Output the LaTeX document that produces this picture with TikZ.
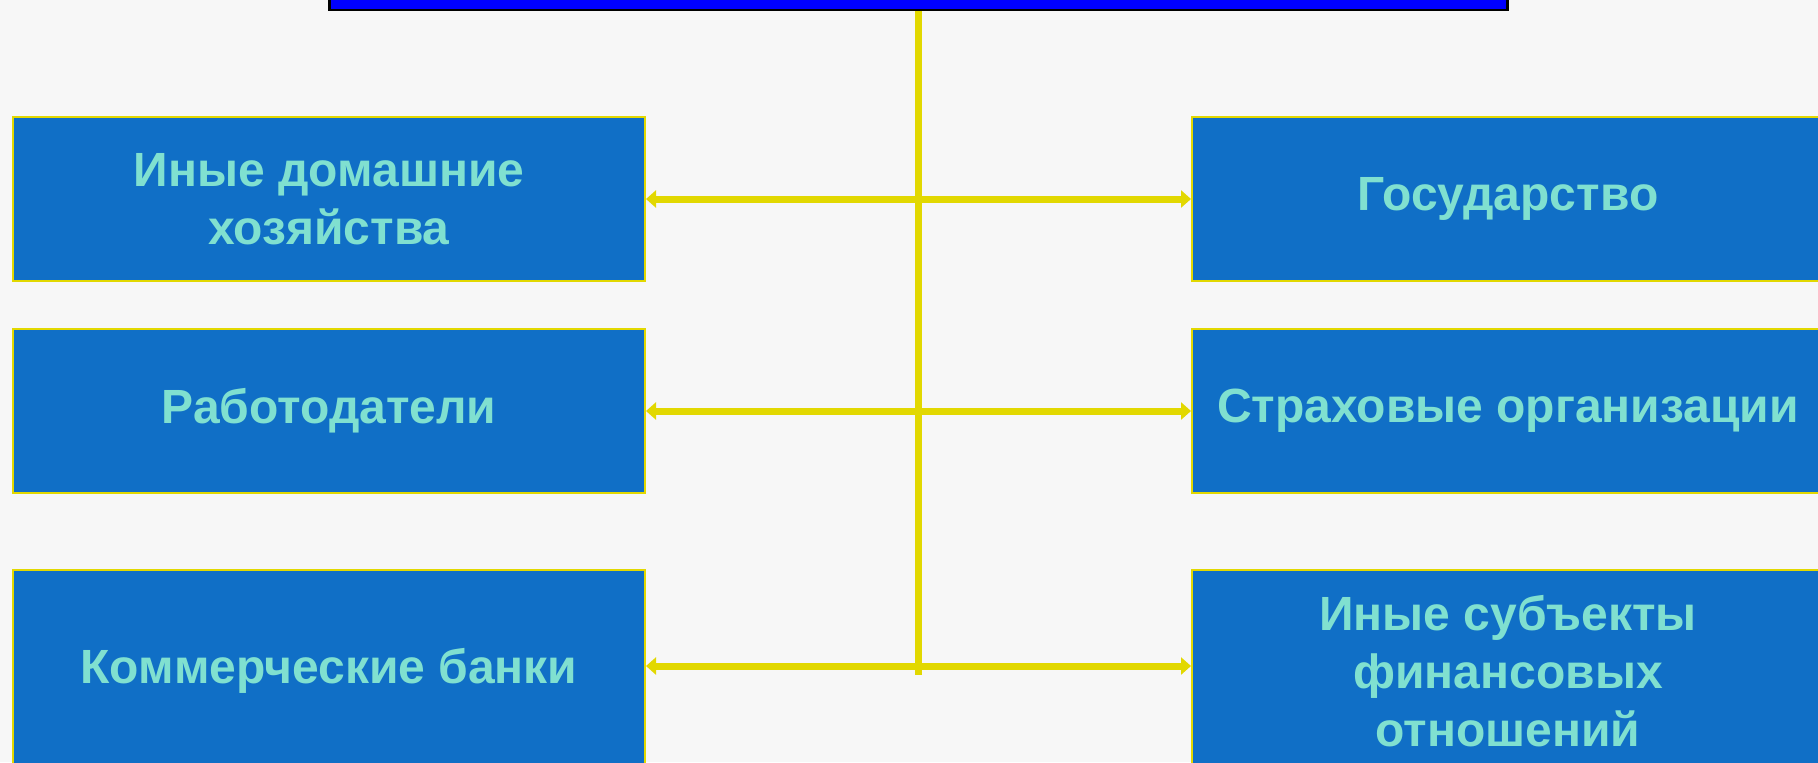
\documentclass[tikz,border=0pt]{standalone}
\usepackage{fontspec}
\setmainfont{Liberation Sans}
\usetikzlibrary{arrows.meta, positioning}
\definecolor{bgpaper}{RGB}{247,247,247}
\definecolor{boxblue}{RGB}{16,111,198}
\definecolor{boxtext}{RGB}{128,224,208}
\definecolor{linkyellow}{RGB}{226,216,0}
\tikzset{
    partner/.style = {rectangle, minimum width=316pt, minimum height=82pt, align=center, draw=linkyellow, line width=1pt, fill=boxblue, text=boxtext, font=\fontsize{24}{29}\selectfont\bfseries},
    header/.style = {rectangle, minimum width=589pt, minimum height=60pt, draw=black, line width=1.2pt, fill=blue},
    link/.style = {linkyellow, line width=3.5pt, {Triangle[width=8.5pt,length=5pt]}-{Triangle[width=8.5pt,length=5pt]}},
    trunk/.style = {linkyellow, line width=3.5pt}
}
\begin{document}
\begin{tikzpicture}[x=0.5pt, y=-0.5pt]
\useasboundingbox (0,0) rectangle (1818,762);
\clip (0,0) rectangle (1818,762);
\fill[bgpaper] (0,0) rectangle (1818,762);

\node[header] (top) at (918.5,-50) {};

\node[partner] (homes) at (329,199) {Иные домашние\\хозяйства};
\node[partner, below=23pt of homes] (employers) {Работодатели};
\node[partner, minimum height=101pt, below=37.5pt of employers] (banks) {Коммерческие банки};

\node[partner, right=272.5pt of homes] (state) {Государство};
\node[partner, right=272.5pt of employers] (insurers) {Страховые организации};
\node[partner, minimum height=101pt, right=272.5pt of banks] (others) {Иные субъекты\\финансовых\\отношений};

\coordinate (trunkend) at (918.5,675);
\draw[trunk] (top.south) -- (trunkend);

\draw[link] (homes.east) -- (state.west);
\draw[link] (employers.east) -- (insurers.west);
\draw[link] ([yshift=2.5pt]banks.east) -- ([yshift=2.5pt]others.west);
\end{tikzpicture}
\end{document}
